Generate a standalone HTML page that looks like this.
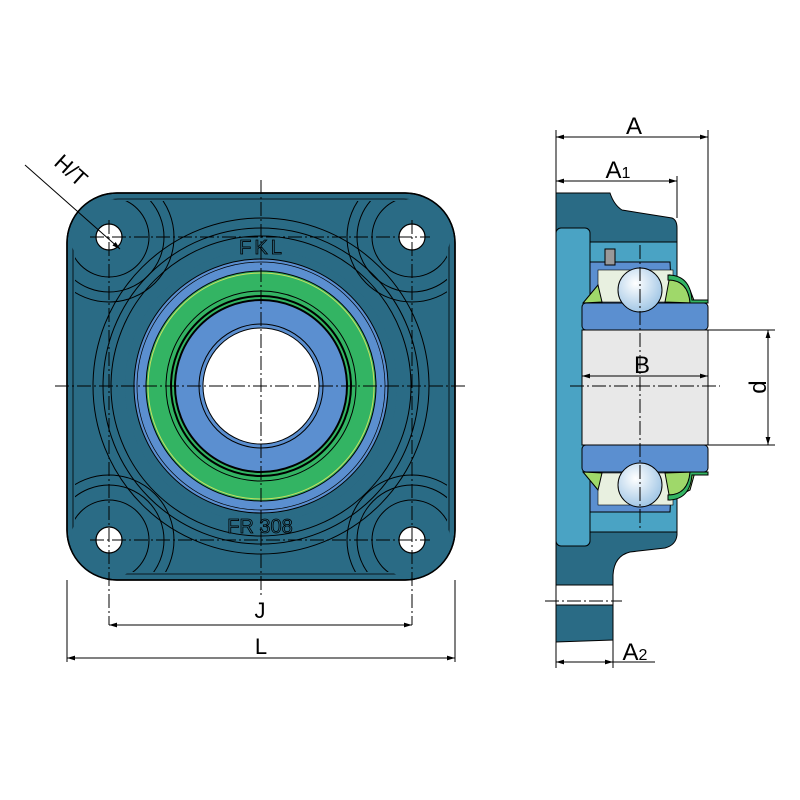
<!DOCTYPE html>
<html><head><style>html,body{margin:0;padding:0;background:#fff}svg{display:block}</style></head>
<body>
<svg width="800" height="800" viewBox="0 0 800 800" xmlns="http://www.w3.org/2000/svg" font-family="Liberation Sans, sans-serif">
<defs>
<radialGradient id="ball" cx="0.4" cy="0.35" r="0.7"><stop offset="0" stop-color="#ffffff"/><stop offset="1" stop-color="#9cc3e4"/></radialGradient>
<marker id="ar" viewBox="0 0 10 10" refX="10" refY="5" markerWidth="8" markerHeight="8" orient="auto-start-reverse"><path d="M0,2 L10,5 L0,8 z" fill="#000"/></marker>
<clipPath id="hc"><rect x="75" y="201" width="372" height="371" rx="43"/></clipPath>
</defs>
<!-- LEFT VIEW -->
<rect x="67" y="193" width="388" height="387" rx="50" fill="#2a6b85" stroke="#000" stroke-width="1.5"/>
<rect x="73" y="199" width="376" height="375" rx="45" fill="none" stroke="#000" stroke-width="0.8"/>
<g fill="none" stroke="#000" stroke-width="1" clip-path="url(#hc)">
<circle cx="261" cy="386" r="150"/><circle cx="261" cy="386" r="158"/><circle cx="261" cy="386" r="168"/>
<circle cx="109" cy="237" r="40"/><circle cx="109" cy="237" r="55"/><circle cx="109" cy="237" r="65"/>
<circle cx="412" cy="237" r="40"/><circle cx="412" cy="237" r="55"/><circle cx="412" cy="237" r="65"/>
<circle cx="109" cy="540" r="40"/><circle cx="109" cy="540" r="55"/><circle cx="109" cy="540" r="65"/>
<circle cx="412" cy="540" r="40"/><circle cx="412" cy="540" r="55"/><circle cx="412" cy="540" r="65"/>
</g>
<g fill="#2a6b85" stroke="none">
<circle cx="109" cy="237" r="38"/><circle cx="412" cy="237" r="38"/><circle cx="109" cy="540" r="38"/><circle cx="412" cy="540" r="38"/>
</g>
<rect x="67" y="193" width="388" height="387" rx="50" fill="none" stroke="#000" stroke-width="1.5"/>
<g fill="#fff" stroke="#000" stroke-width="1.2">
<circle cx="109" cy="237" r="13"/><circle cx="412" cy="237" r="13"/><circle cx="109" cy="540" r="13"/><circle cx="412" cy="540" r="13"/>
</g>
<circle cx="261" cy="386" r="136" fill="#2a6b85" stroke="none"/>
<circle cx="261" cy="386" r="127" fill="#5b8fd0" stroke="#000"/>
<circle cx="261" cy="386" r="124" fill="none" stroke="#000" stroke-width="0.7"/>
<circle cx="261" cy="386" r="115" fill="#33b463" stroke="#000"/>
<circle cx="261" cy="386" r="113" fill="none" stroke="#c8e060" stroke-width="1"/>
<circle cx="261" cy="386" r="95" fill="none" stroke="#000"/>
<circle cx="261" cy="386" r="90" fill="none" stroke="#000" stroke-width="2"/>
<circle cx="261" cy="386" r="86" fill="#5b8fd0" stroke="#000" stroke-width="2"/>
<circle cx="261" cy="386" r="62" fill="none" stroke="#000"/>
<circle cx="261" cy="386" r="58" fill="#fff" stroke="#000"/>
<text x="262" y="254" font-size="20" text-anchor="middle" fill="#2a6b85" stroke="#000" stroke-width="0.8" letter-spacing="3">FKL</text>
<text x="260" y="533" font-size="20" text-anchor="middle" fill="#2a6b85" stroke="#000" stroke-width="0.8">FR 308</text>
<g stroke="#000" stroke-width="1" stroke-dasharray="14,3,2,3" fill="none">
<line x1="261" y1="180" x2="261" y2="595"/><line x1="55" y1="386" x2="465" y2="386"/>
<line x1="90" y1="237" x2="430" y2="237"/><line x1="90" y1="540" x2="430" y2="540"/>
<line x1="109" y1="220" x2="109" y2="625"/><line x1="412" y1="220" x2="412" y2="625"/>
</g>
<g stroke="#000" stroke-width="1" fill="none">
<line x1="67" y1="580" x2="67" y2="662"/><line x1="455" y1="580" x2="455" y2="662"/>
<line x1="109" y1="625" x2="412" y2="625" marker-start="url(#ar)" marker-end="url(#ar)"/>
<line x1="67" y1="658" x2="455" y2="658" marker-start="url(#ar)" marker-end="url(#ar)"/>
<line x1="25" y1="165" x2="120" y2="249" marker-end="url(#ar)"/>
</g>
<text x="260" y="618" font-size="22" text-anchor="middle">J</text>
<text x="261" y="654" font-size="22" text-anchor="middle">L</text>
<text x="66" y="176" font-size="22" text-anchor="middle" transform="rotate(42 66 176)">H/T</text>
<!-- RIGHT VIEW -->
<path d="M556,193 L610,193 Q614,205 622,210 L672,218 Q677,220 677,228 L677,535 Q676,545 665,548 L630,552 Q614,556 613,575 L613,640 L556,642 Z" fill="#2a6b85" stroke="#000"/>
<rect x="556" y="228" width="34" height="318" rx="5" fill="#4aa3c4" stroke="#000"/>
<rect x="590" y="242" width="87" height="290" fill="#4aa3c4" stroke="#000"/>
<path d="M590,262 L670,262 L672,305 L590,305Z M590,470 L672,470 L670,512 L590,512Z" fill="#5b8fd0" stroke="#000"/>
<rect x="598" y="270" width="75" height="32" fill="#e8f0e0" stroke="#000" stroke-width="0.6"/>
<rect x="598" y="473" width="75" height="32" fill="#e8f0e0" stroke="#000" stroke-width="0.6"/>
<rect x="556" y="585" width="57" height="20" fill="#fff" stroke="#000"/>
<rect x="582" y="303" width="126" height="27" rx="4" fill="#5b8fd0" stroke="#000"/>
<rect x="582" y="445" width="126" height="27" rx="4" fill="#5b8fd0" stroke="#000"/>
<rect x="582" y="330" width="126" height="115" fill="#e8e8e8" stroke="#000"/>
<path d="M583,303 L598,285 L602,302Z M665,302 L670,275 L690,290 L695,303Z M583,472 L598,490 L602,473Z M665,473 L670,500 L690,490 L695,472Z" fill="#9fd86a" stroke="#000"/>
<path d="M668,275 Q690,275 692,300 L708,300 L708,303 L690,303 Q688,280 668,280Z M668,500 Q690,500 692,475 L708,475 L708,472 L690,472 Q688,495 668,495Z" fill="#33b463" stroke="#000"/>
<circle cx="640" cy="290" r="22" fill="url(#ball)" stroke="#000"/>
<circle cx="640" cy="485" r="22" fill="url(#ball)" stroke="#000"/>
<rect x="605" y="249" width="10" height="16" fill="#999" stroke="#000"/>
<g stroke="#000" stroke-width="1" fill="none">
<line x1="556" y1="130" x2="556" y2="668"/><line x1="708" y1="130" x2="708" y2="303"/><line x1="677" y1="176" x2="677" y2="218"/>
<line x1="613" y1="640" x2="613" y2="668"/>
<line x1="708" y1="330" x2="775" y2="330"/><line x1="708" y1="445" x2="775" y2="445"/>
<line x1="556" y1="137" x2="708" y2="137" marker-start="url(#ar)" marker-end="url(#ar)"/>
<line x1="556" y1="181" x2="677" y2="181" marker-start="url(#ar)" marker-end="url(#ar)"/>
<line x1="582" y1="376" x2="708" y2="376" marker-start="url(#ar)" marker-end="url(#ar)"/>
<line x1="768" y1="330" x2="768" y2="445" marker-start="url(#ar)" marker-end="url(#ar)"/>
<line x1="556" y1="662" x2="613" y2="662" marker-start="url(#ar)" marker-end="url(#ar)"/>
<line x1="613" y1="662" x2="655" y2="662"/>
</g>
<g stroke="#000" stroke-width="1" stroke-dasharray="14,3,2,3"><line x1="570" y1="386" x2="720" y2="386"/><line x1="640" y1="245" x2="640" y2="530"/><line x1="545" y1="601" x2="622" y2="601"/></g>
<text x="634" y="134" font-size="24" text-anchor="middle">A</text>
<text x="618" y="178" font-size="24" text-anchor="middle">A<tspan font-size="16">1</tspan></text>
<text x="642" y="373" font-size="24" text-anchor="middle">B</text>
<text x="766" y="387" font-size="24" text-anchor="middle" transform="rotate(-90 766 387)">d</text>
<text x="635" y="660" font-size="24" text-anchor="middle">A<tspan font-size="16">2</tspan></text>
</svg>
</body></html>
